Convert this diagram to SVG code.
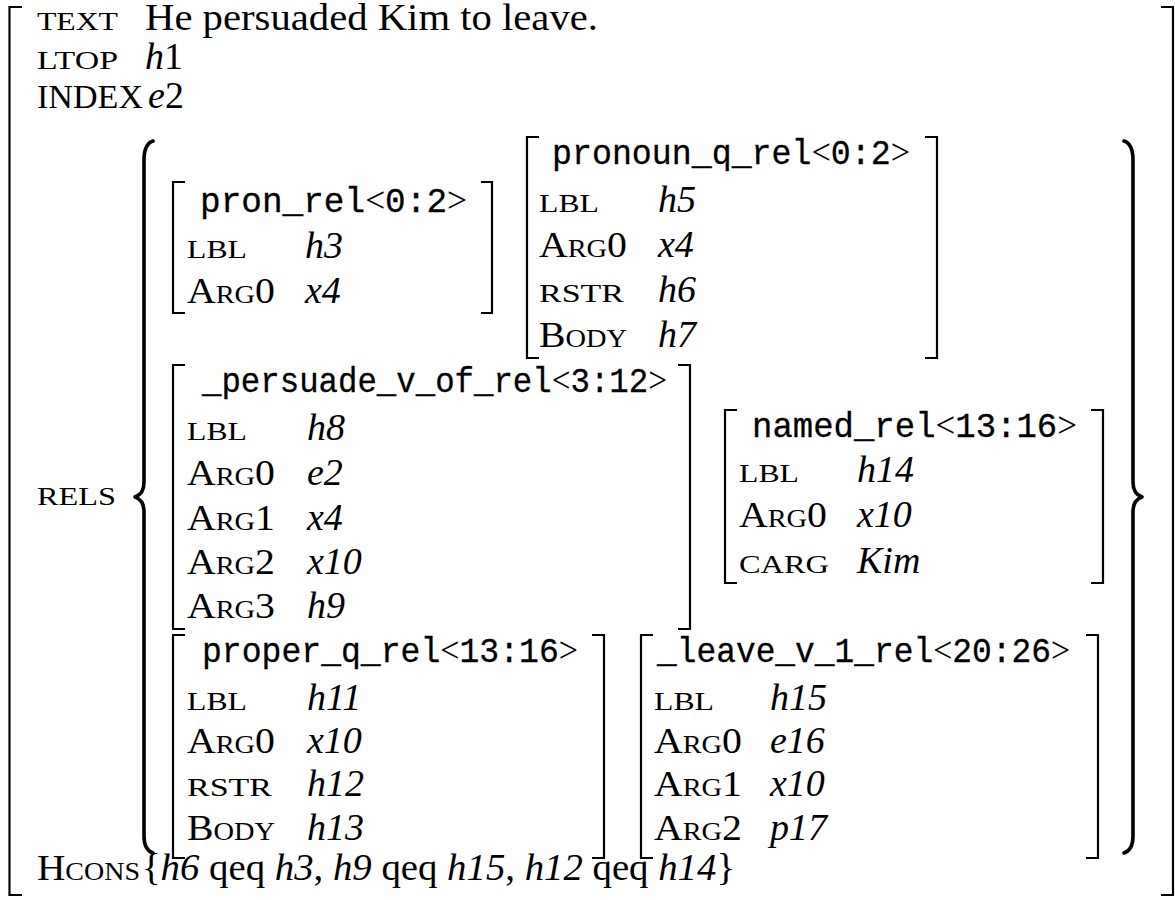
<svg xmlns="http://www.w3.org/2000/svg" width="1175" height="900" viewBox="0 0 1175 900">
  <style>
    text{font-family:"Liberation Serif","Times New Roman",serif;font-size:38px;fill:#000}
    .sc{font-variant:small-caps;font-size:35px}
    .cap{font-size:34px}
    .it{font-style:italic}
    .tt{font-family:"Liberation Mono","Courier New",monospace;font-size:35px;stroke:#000;stroke-width:0.3}
    .m{font-family:"Liberation Serif","Times New Roman",serif;font-size:36px;stroke:none}
    .br{fill:none;stroke:#000;stroke-width:2.2}
    .brace{fill:none;stroke:#000;stroke-width:3.6;stroke-linecap:round;stroke-linejoin:round}
  </style>
  <rect width="1175" height="900" fill="#fff"/>

  <!-- top-level MRS structure -->
  <g id="mrs">
    <path class="br" d="M22,7 H9.5 V895 H22"/>
    <path class="br" d="M1161,7 H1173 V895 H1161"/>
    <text x="37" y="30" class="sc" textLength="81" lengthAdjust="spacingAndGlyphs">text</text>
    <text x="145" y="30" textLength="453" lengthAdjust="spacingAndGlyphs">He persuaded Kim to leave.</text>
    <text x="37" y="69" class="sc" textLength="81" lengthAdjust="spacingAndGlyphs">ltop</text>
    <text x="145" y="69"><tspan class="it">h</tspan>1</text>
    <text x="37" y="108" class="cap" textLength="106" lengthAdjust="spacingAndGlyphs">INDEX</text>
    <text x="148" y="108"><tspan class="it">e</tspan>2</text>
    <text x="37" y="505" class="sc" textLength="79" lengthAdjust="spacingAndGlyphs">rels</text>
    <text x="37" y="880" class="sc" textLength="103" lengthAdjust="spacingAndGlyphs">Hcons</text>
    <text x="142" y="880" textLength="593" lengthAdjust="spacingAndGlyphs">{<tspan class="it">h6</tspan> qeq <tspan class="it">h3</tspan>, <tspan class="it">h9</tspan> qeq <tspan class="it">h15</tspan>, <tspan class="it">h12</tspan> qeq <tspan class="it">h14</tspan>}</text>
  </g>

  <!-- braces around the RELS list -->
  <g id="connectors">
    <path class="brace" d="M153,141 Q144,144 144,160 L144,482 Q144,494 135,497 Q144,500 144,512 L144,836 Q144,850 153,853"/>
    <path class="brace" d="M1124,141 Q1133,144 1133,160 L1133,482 Q1133,494 1142,497 Q1133,500 1133,512 L1133,836 Q1133,850 1124,853"/>
  </g>

  <!-- pron_rel -->
  <g id="pron_rel">
    <path class="br" d="M185,182 H173 V313 H185"/>
    <path class="br" d="M481,182 H492 V313 H481"/>
    <text class="tt" x="200" y="212" textLength="267" lengthAdjust="spacingAndGlyphs">pron_rel<tspan class="m">&lt;</tspan>0:2<tspan class="m">&gt;</tspan></text>
    <text class="sc" x="187" y="258" textLength="60" lengthAdjust="spacingAndGlyphs">lbl</text>
    <text class="it" x="305" y="258">h3</text>
    <text class="sc" x="187" y="303" textLength="88" lengthAdjust="spacingAndGlyphs">Arg0</text>
    <text class="it" x="305" y="303">x4</text>
  </g>

  <!-- pronoun_q_rel -->
  <g id="pronoun_q_rel">
    <path class="br" d="M539,137 H527 V358 H539"/>
    <path class="br" d="M925,137 H937 V358 H925"/>
    <text class="tt" x="552" y="164" textLength="358" lengthAdjust="spacingAndGlyphs">pronoun_q_rel<tspan class="m">&lt;</tspan>0:2<tspan class="m">&gt;</tspan></text>
    <text class="sc" x="539" y="212" textLength="60" lengthAdjust="spacingAndGlyphs">lbl</text>
    <text class="it" x="658" y="212">h5</text>
    <text class="sc" x="539" y="257" textLength="88" lengthAdjust="spacingAndGlyphs">Arg0</text>
    <text class="it" x="658" y="257">x4</text>
    <text class="sc" x="539" y="302" textLength="85" lengthAdjust="spacingAndGlyphs">rstr</text>
    <text class="it" x="658" y="302">h6</text>
    <text class="sc" x="539" y="347" textLength="88" lengthAdjust="spacingAndGlyphs">Body</text>
    <text class="it" x="658" y="347">h7</text>
  </g>

  <!-- _persuade_v_of_rel -->
  <g id="persuade_v_of_rel">
    <path class="br" d="M185,365 H173 V629 H185"/>
    <path class="br" d="M678,365 H690 V629 H678"/>
    <text class="tt" x="202" y="392" textLength="465" lengthAdjust="spacingAndGlyphs">_persuade_v_of_rel<tspan class="m">&lt;</tspan>3:12<tspan class="m">&gt;</tspan></text>
    <text class="sc" x="187" y="440" textLength="60" lengthAdjust="spacingAndGlyphs">lbl</text>
    <text class="it" x="307" y="440">h8</text>
    <text class="sc" x="187" y="485" textLength="88" lengthAdjust="spacingAndGlyphs">Arg0</text>
    <text class="it" x="307" y="485">e2</text>
    <text class="sc" x="187" y="530" textLength="88" lengthAdjust="spacingAndGlyphs">Arg1</text>
    <text class="it" x="307" y="530">x4</text>
    <text class="sc" x="187" y="574" textLength="88" lengthAdjust="spacingAndGlyphs">Arg2</text>
    <text class="it" x="307" y="574">x10</text>
    <text class="sc" x="187" y="618" textLength="88" lengthAdjust="spacingAndGlyphs">Arg3</text>
    <text class="it" x="307" y="618">h9</text>
  </g>

  <!-- named_rel -->
  <g id="named_rel">
    <path class="br" d="M737,410 H725 V583 H737"/>
    <path class="br" d="M1091,410 H1103 V583 H1091"/>
    <text class="tt" x="752" y="437" textLength="325" lengthAdjust="spacingAndGlyphs">named_rel<tspan class="m">&lt;</tspan>13:16<tspan class="m">&gt;</tspan></text>
    <text class="sc" x="739" y="482" textLength="60" lengthAdjust="spacingAndGlyphs">lbl</text>
    <text class="it" x="857" y="482">h14</text>
    <text class="sc" x="739" y="527" textLength="88" lengthAdjust="spacingAndGlyphs">Arg0</text>
    <text class="it" x="857" y="527">x10</text>
    <text class="sc" x="739" y="573" textLength="90" lengthAdjust="spacingAndGlyphs">carg</text>
    <text class="it" x="857" y="573">Kim</text>
  </g>

  <!-- proper_q_rel -->
  <g id="proper_q_rel">
    <path class="br" d="M185,635 H173 V858 H185"/>
    <path class="br" d="M592,635 H604 V858 H592"/>
    <text class="tt" x="202" y="662" textLength="376" lengthAdjust="spacingAndGlyphs">proper_q_rel<tspan class="m">&lt;</tspan>13:16<tspan class="m">&gt;</tspan></text>
    <text class="sc" x="187" y="710" textLength="60" lengthAdjust="spacingAndGlyphs">lbl</text>
    <text class="it" x="307" y="710">h11</text>
    <text class="sc" x="187" y="753" textLength="88" lengthAdjust="spacingAndGlyphs">Arg0</text>
    <text class="it" x="307" y="753">x10</text>
    <text class="sc" x="187" y="796" textLength="85" lengthAdjust="spacingAndGlyphs">rstr</text>
    <text class="it" x="307" y="796">h12</text>
    <text class="sc" x="187" y="840" textLength="88" lengthAdjust="spacingAndGlyphs">Body</text>
    <text class="it" x="307" y="840">h13</text>
  </g>

  <!-- _leave_v_1_rel -->
  <g id="leave_v_1_rel">
    <path class="br" d="M653,635 H641 V858 H653"/>
    <path class="br" d="M1086,635 H1098 V858 H1086"/>
    <text class="tt" x="657" y="662" textLength="413" lengthAdjust="spacingAndGlyphs">_leave_v_1_rel<tspan class="m">&lt;</tspan>20:26<tspan class="m">&gt;</tspan></text>
    <text class="sc" x="654" y="710" textLength="60" lengthAdjust="spacingAndGlyphs">lbl</text>
    <text class="it" x="770" y="710">h15</text>
    <text class="sc" x="654" y="753" textLength="88" lengthAdjust="spacingAndGlyphs">Arg0</text>
    <text class="it" x="770" y="753">e16</text>
    <text class="sc" x="654" y="796" textLength="88" lengthAdjust="spacingAndGlyphs">Arg1</text>
    <text class="it" x="770" y="796">x10</text>
    <text class="sc" x="654" y="840" textLength="88" lengthAdjust="spacingAndGlyphs">Arg2</text>
    <text class="it" x="770" y="840">p17</text>
  </g>
</svg>
